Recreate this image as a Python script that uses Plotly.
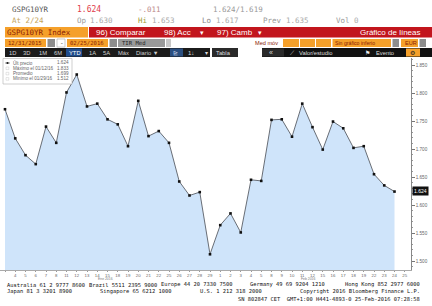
import plotly.graph_objects as go

W, H = 432, 306

# ---- data ----
day_labels = ["31", "4", "5", "6", "7", "8", "11", "12", "13", "14", "15", "18", "19", "20", "21", "22",
              "25", "26", "27", "28", "29", "1", "2", "3", "4", "5", "8", "9", "10", "11", "12",
              "15", "16", "17", "18", "19", "22", "23", "24", "25"]
values = [1.771, 1.719, 1.689, 1.673, 1.740, 1.711, 1.801, 1.833, 1.776, 1.781,
          1.753, 1.744, 1.705, 1.786, 1.723, 1.732, 1.711, 1.642, 1.617, 1.623,
          1.512, 1.564, 1.585, 1.551, 1.645, 1.643, 1.752, 1.753, 1.722, 1.781,
          1.739, 1.699, 1.749, 1.737, 1.702, 1.705, 1.655, 1.635, 1.624]
y_ticks = [1.500, 1.550, 1.600, 1.650, 1.700, 1.750, 1.800, 1.850]
legend_rows = [("Últ precio", "1.624"), ("Máximo el 01/12/16", "1.833"),
               ("Promedio", "1.699"), ("Mínimo el 01/29/16", "1.512")]
last_value = "1.624"

x_idx = list(range(len(values)))
tick_idx = list(range(len(day_labels)))
tick_text = [""] + day_labels[1:]

fig = go.Figure()
fig.add_trace(go.Scatter(
    x=x_idx, y=values, mode="lines+markers", fill="tozeroy",
    fillcolor="#cfe4fa", line=dict(color="#5a5f66", width=0.9),
    marker=dict(symbol="square", size=2.6, color="#111"),
    hoverinfo="skip", showlegend=False))

MONO = "DejaVu Sans Mono"
SANS = "Liberation Sans"
ann = []
shapes = []


def px(x):
    return x / W


def py(y):
    return 1 - y / H


def txt(x, y, s, size=7, color="#777", font=MONO, anchor="left", **kw):
    ann.append(dict(x=px(x), y=py(y), xref="paper", yref="paper", text=s,
                    showarrow=False, xanchor=anchor, yanchor="middle",
                    font=dict(family=font, size=size, color=color), borderpad=0, **kw))


def rect(x0, y0, x1, y1, fill, line=None, lw=0.6):
    shapes.append(dict(type="rect", xref="paper", yref="paper",
                       x0=px(x0), x1=px(x1), y0=py(y1), y1=py(y0),
                       fillcolor=fill, line=dict(color=line or fill, width=lw if line else 0),
                       layer="above"))


# ---- header row 1 / 2 ----
txt(11, 10, "GSPG10YR", 7.5, "#555")
txt(76, 10, "1.624", 8, "#e03c4a")
txt(137, 10, "-.011", 7.5, "#b88")
txt(212, 10, "1.624/1.619", 7.5, "#999")
txt(11, 21, "At 2/24", 7.5, "#c4a45c")
txt(76, 21, "Op", 7.5, "#999")
txt(89, 21, "1.630", 7.5, "#aaa")
txt(137, 21, "Hi", 7.5, "#a3a040")
txt(151, 21, "1.653", 7.5, "#aaa")
txt(201, 21, "Lo", 7.5, "#888")
txt(215, 21, "1.617", 7.5, "#aaa")
txt(262, 21, "Prev", 7.5, "#999")
txt(285, 21, "1.635", 7.5, "#aaa")
txt(335, 21, "Vol", 7.5, "#999")
txt(353, 21, "0", 7.5, "#aaa")

# ---- row 3 ----
rect(5, 27, 88, 37.5, "#f5a02a")
txt(6, 32.3, "GSPG10YR Index", 7.5, "#8a1c05")
rect(89, 27, 432, 37.5, "#c2151d")
txt(95, 32.3, "96) Comparar", 8, "#fff", SANS)
txt(163, 32.3, "98) Acc", 8, "#fff", SANS)
txt(199, 32.3, "▾", 7, "#fff", SANS)
txt(216, 32.3, "97) Camb", 8, "#fff", SANS)
txt(257, 32.3, "▾", 7, "#fff", SANS)
txt(421, 32.3, "Gráfico de líneas", 8, "#fff", SANS, anchor="right")

# ---- row 4 ----
rect(5, 39, 46, 47, "#f5a02a")
txt(7, 43, "12/31/2015", 5.6, "#8a1c05")
rect(47.5, 39, 55, 47, "#8d8d8d")
rect(57, 39, 65, 47, "#fff", "#aaa")
txt(59, 43, "-", 6, "#333")
rect(67, 39, 108, 47, "#f5a02a")
txt(69, 43, "02/25/2016", 5.6, "#8a1c05")
rect(109.5, 39, 117, 47, "#8d8d8d")
rect(118, 39, 165, 47, "#9a9a9a")
txt(121, 43, "TIR Med", 5.6, "#222")
rect(166, 39, 171, 47, "#c8c8c8")
txt(254, 43, "Med móv", 5.6, "#8a1c05", SANS)
rect(283, 39, 299, 47, "#f5a02a")
rect(300, 39, 315, 47, "#f5a02a")
rect(316, 39, 331, 47, "#f5a02a")
rect(332.5, 39, 391, 47, "#f5a02a")
txt(334, 43, "Sin gráfico inferio", 5.2, "#8a1c05", SANS)
rect(392.5, 39, 399, 47, "#8d8d8d")
rect(401, 39, 418, 47, "#f5a02a")
txt(404, 43, "EUR", 5.6, "#8a1c05", SANS)
rect(419.5, 39, 426, 47, "#8d8d8d")

# ---- row 5 ----
rect(5, 48, 210, 57, "#1b1b1b")
for xx, s in [(8, "1D"), (22, "3D"), (38, "1M"), (53, "6M"), (88, "1A"), (102, "5A"), (117, "Máx"),
              (135, "Diario ▼")]:
    txt(xx, 52.5, s, 5.8, "#cfcfcf", SANS)
rect(66, 48.5, 82, 56.5, "#1f4c8c")
txt(68, 52.5, "YTD", 5.8, "#fff", SANS)
rect(170, 48.5, 183, 56.5, "#2b4f80")
txt(172, 52.5, "⊵", 6, "#cfd8ea", SANS)
txt(187, 52.5, "1↓", 6, "#ddd", SANS)
txt(204, 52.5, "▾", 6, "#ddd", SANS)
rect(212, 48, 238, 57, "#2a2a2a")
txt(215, 52.5, "Tabla", 5.8, "#ddd", SANS)
rect(262, 48, 432, 57, "#111")
rect(262, 48.5, 284, 56.5, "#2a2a2a")
txt(268, 52.5, "«", 7, "#ddd", SANS)
txt(289, 52.5, "⟋", 6, "#ddd", SANS)
txt(298, 52.5, "Valor/estudio", 5.8, "#ddd", SANS)
txt(364, 52.5, "⚑", 6, "#eee", SANS)
txt(375, 52.5, "Evento", 5.8, "#ddd", SANS)
rect(406, 48.5, 420, 56.5, "#f5a02a")
txt(409, 52.5, "⚙", 6, "#222", SANS)

# ---- legend box ----
shapes.append(dict(type="rect", xref="paper", yref="paper", x0=px(3), x1=px(72),
                   y0=py(84), y1=py(58.5), fillcolor="#fff",
                   line=dict(color="#b0b0b0", width=0.6), layer="above"))
leg_y = [63, 68.3, 73.6, 78.9]
for i, ((lab, val), yy) in enumerate(zip(legend_rows, leg_y)):
    if i == 0:
        shapes.append(dict(type="line", xref="paper", yref="paper", x0=px(5), x1=px(10),
                           y0=py(yy), y1=py(yy), line=dict(color="#555", width=0.6), layer="above"))
        rect(6.6, yy - 0.9, 8.4, yy + 0.9, "#111")
    else:
        rect(6, yy - 1.3, 8.8, yy + 1.3, "#fff", "#bbb", 0.4)
    txt(12, yy, lab, 4.6, "#666", SANS)
    txt(70, yy, val, 4.6, "#666", SANS, anchor="right")

# ---- last price tag ----
ann.append(dict(x=px(420), y=py(191), xref="paper", yref="paper", text=last_value,
                showarrow=False, xanchor="center", yanchor="middle",
                font=dict(family=SANS, size=5, color="#fff"), bgcolor="#111",
                borderpad=1))

# ---- month labels ----
txt(105, 279.3, "Ene 2016", 3.4, "#777", SANS, anchor="center")
txt(308, 279.3, "Feb 2016", 3.4, "#777", SANS, anchor="center")

# ---- footer ----
FY = [284.5, 291.2, 298.5]
fs = 5.4
txt(6, FY[0], "Australia 61 2 9777 8600", fs, "#111")
txt(88, FY[0], "Brazil 5511 2395 9000", fs, "#111")
txt(160, FY[0], "Europe 44 20 7330 7500", fs, "#111")
txt(249, FY[0], "Germany 49 69 9204 1210", fs, "#111")
txt(421, FY[0], "Hong Kong 852 2977 6000", fs, "#111", anchor="right")
txt(6, FY[1], "Japan 81 3 3201 8900", fs, "#111")
txt(99, FY[1], "Singapore 65 6212 1000", fs, "#111")
txt(199, FY[1], "U.S. 1 212 318 2000", fs, "#111")
txt(421, FY[1], "Copyright 2016 Bloomberg Finance L.P.", fs, "#111", anchor="right")
txt(421, FY[2], "SN 802847 CET  GMT+1:00 H441-4893-0 25-Feb-2016 07:28:58", fs, "#111", anchor="right")

x_lo = -5 / 10.25
x_hi = (411 - 5) / 10.25
y_top = 1.850 + (65 - 58) / 560
y_bot = 1.850 - (270 - 65) / 560

fig.update_layout(
    width=W, height=H, margin=dict(l=0, r=0, t=0, b=0),
    paper_bgcolor="#fff", plot_bgcolor="#fff",
    showlegend=False, annotations=ann, shapes=shapes,
    xaxis=dict(domain=[0, 411 / W], range=[x_lo, x_hi], tickmode="array",
               tickvals=tick_idx, ticktext=tick_text, tickangle=0,
               ticks="outside", ticklen=1.5, tickcolor="#999", tickwidth=0.6,
               tickfont=dict(family=SANS, size=4.3, color="#666"),
               showgrid=False, zeroline=False, showline=True, linecolor="#aaa", linewidth=0.6),
    yaxis=dict(domain=[1 - 270 / H, 1 - 58 / H], range=[y_bot, y_top], side="right",
               tickmode="array", tickvals=y_ticks, tickformat=".3f",
               ticks="outside", ticklen=3, tickcolor="#777", tickwidth=0.6,
               minor=dict(dtick=0.01, ticklen=1.5, tickcolor="#999", ticks="outside"),
               tickfont=dict(family=SANS, size=4.6, color="#666"),
               showgrid=False, zeroline=False, showline=True, linecolor="#888", linewidth=0.6),
)

fig.write_html("out.html")
